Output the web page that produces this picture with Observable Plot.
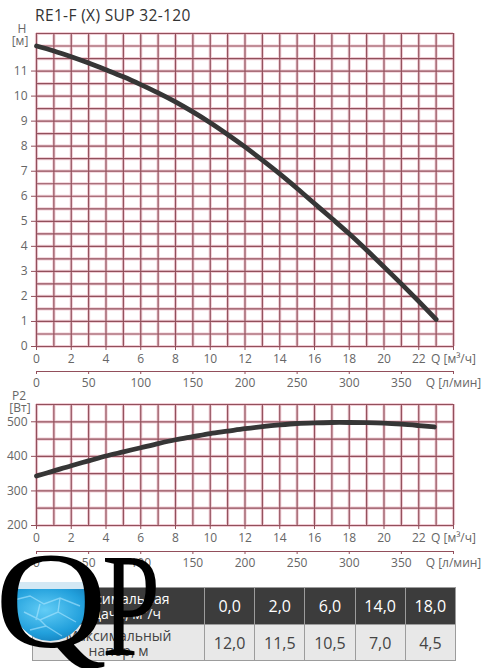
<!DOCTYPE html>
<html><head><meta charset="utf-8">
<script src="https://cdn.jsdelivr.net/npm/d3@7"></script>
<script src="https://cdn.jsdelivr.net/npm/@observablehq/plot@0.6"></script>
<style>
body{margin:0;background:#fff;font-family:"Open Sans",sans-serif;}
#wrap{position:relative;width:483px;height:668px;overflow:hidden;background:#fff;}
table.spec{position:absolute;left:32px;top:587px;width:423px;border-collapse:collapse;table-layout:fixed;font-family:"Open Sans",sans-serif;}
table.spec td{border:1px solid #9c9c9c;text-align:center;padding:0;}
table.spec tr.r1 td{background:#3c3c3c;color:#fff;height:36px;}
table.spec tr.r2 td{background:#e8e8e8;color:#444;height:35px;}
table.spec td.lab{font-size:14px;line-height:15px;}
table.spec td.num{font-size:16px;}
</style></head><body><div id="wrap"></div>
<script>
// ---------- data ----------
const title = "RE1-F (X) SUP 32-120";
const flowQ = [0,1,2,3,4,5,6,7,8,9,10,11,12,13,14,15,16,17,18,19,20,21,22,23];
const headH = [12.0,11.8,11.57,11.32,11.05,10.77,10.46,10.13,9.77,9.37,8.94,8.47,7.97,7.44,6.89,6.31,5.71,5.11,4.5,3.85,3.18,2.5,1.8,1.08];
const powerQ = [0,1,2,3,4,5,6,7,8,9,10,11,12,13,14,15,16,17,18,19,20,21,22,22.9];
const powerW = [343,358,373,387,401,413,425,437,448,457,466,473,480,486,491,495,497,498,498,497.5,496,493,489,485];
const qTicks = [0,2,4,6,8,10,12,14,16,18,20,22,24];
const qTickLabels = ["0","2","4","6","8","10","12","14","16","18","20","22","Q [м³/ч]"];
const lminTicks = [0,50,100,150,200,250,300,350,400];
const lminTickLabels = ["0","50","100","150","200","250","300","350","Q [л/мин]"];
const hTicks = [0,1,2,3,4,5,6,7,8,9,10,11];
const pTicks = [200,300,400,500];
const tableRowLabels = [["Максимальная","подача, м³/ч"],["Максимальный","напор, м"]];
const tableFlow = ["0,0","2,0","6,0","14,0","18,0"];
const tableHead = ["12,0","11,5","10,5","7,0","4,5"];

// ---------- style ----------
const GRID = "#924f5b", GLOW = "#f1cfd7", CURVE = "#363636", TXT = "#666";
const gridQ = d3.range(0, 25, 1);
const gridH = d3.range(0, 12.51, 0.5);
const gridP = d3.range(200, 551, 50);
const baseStyle = {fontFamily: "Open Sans", fontSize: "12px", color: TXT, background: "transparent", overflow: "visible"};
const lab = (ticks, labels) => d => labels[ticks.indexOf(d)];

function gridMarks(xs, ys) {
  return [
    Plot.ruleX(xs, {stroke: GLOW, strokeWidth: 3.2}),
    Plot.ruleY(ys, {stroke: GLOW, strokeWidth: 3.2}),
    Plot.ruleX(xs, {stroke: GRID, strokeWidth: 1.2}),
    Plot.ruleY(ys, {stroke: GRID, strokeWidth: 1.2})
  ];
}

const wrap = document.getElementById("wrap");
function place(node, top, z) {
  node.style.position = "absolute"; node.style.left = "0px"; node.style.top = top + "px";
  node.style.zIndex = z || 1;
  wrap.appendChild(node);
}

// Head chart
const headChart = Plot.plot({
  width: 483, height: 368, marginLeft: 36, marginRight: 30, marginTop: 33, marginBottom: 22,
  x: {domain: [0, 24]}, y: {domain: [0, 12.5]}, style: baseStyle,
  marks: [
    ...gridMarks(gridQ, gridH),
    Plot.axisX({ticks: qTicks, tickFormat: lab(qTicks, qTickLabels), tickSize: 4, tickPadding: 4, label: null, stroke: GRID, fill: TXT}),
    Plot.axisY({ticks: hTicks, tickSize: 5, tickPadding: 4, label: null, stroke: GRID, fill: TXT}),
    Plot.line(flowQ.map((q, i) => ({q, h: headH[i]})), {x: "q", y: "h", curve: "catmull-rom", stroke: CURVE, strokeWidth: 4.8, strokeLinecap: "round"})
  ]
});
place(headChart, 0);

function lminAxis(top) {
  const p = Plot.plot({
    width: 483, height: 22, marginLeft: 36, marginRight: 30, marginTop: 0, marginBottom: 21,
    x: {domain: [0, 400]}, y: {domain: [0, 1], axis: null}, style: baseStyle,
    marks: [
      Plot.ruleY([0], {stroke: GRID, strokeWidth: 1.2}),
      Plot.axisX({ticks: lminTicks, tickFormat: lab(lminTicks, lminTickLabels), tickSize: 3, tickPadding: 4, label: null, stroke: GRID, fill: TXT})
    ]
  });
  place(p, top);
}
lminAxis(370);

// Power chart
const powerChart = Plot.plot({
  width: 483, height: 165, marginLeft: 36, marginRight: 30, marginTop: 24, marginBottom: 20,
  x: {domain: [0, 24]}, y: {domain: [200, 550]}, style: baseStyle,
  marks: [
    ...gridMarks(gridQ, gridP),
    Plot.axisX({ticks: qTicks, tickFormat: lab(qTicks, qTickLabels), tickSize: 4, tickPadding: 4, label: null, stroke: GRID, fill: TXT}),
    Plot.axisY({ticks: pTicks, tickSize: 5, tickPadding: 4, label: null, stroke: GRID, fill: TXT}),
    Plot.line(powerQ.map((q, i) => ({q, p: powerW[i]})), {x: "q", y: "p", curve: "catmull-rom", stroke: CURVE, strokeWidth: 4.8, strokeLinecap: "round"})
  ]
});
place(powerChart, 380);
lminAxis(550);

// Table
const table = document.createElement("table");
table.className = "spec";
const cg = document.createElement("colgroup");
cg.innerHTML = '<col style="width:172px">' + tableFlow.map(() => '<col style="width:50.2px">').join("");
table.appendChild(cg);
[[tableRowLabels[0], tableFlow, "r1"], [tableRowLabels[1], tableHead, "r2"]].forEach(([labels, vals, cls]) => {
  const tr = document.createElement("tr"); tr.className = cls;
  const td0 = document.createElement("td"); td0.className = "lab"; td0.innerHTML = labels.join("<br>");
  tr.appendChild(td0);
  vals.forEach(v => { const td = document.createElement("td"); td.className = "num"; td.textContent = v; tr.appendChild(td); });
  table.appendChild(tr);
});
table.style.zIndex = 2;
wrap.appendChild(table);

// Overlay: title, axis unit labels, logo
const ns = "http://www.w3.org/2000/svg";
const ov = document.createElementNS(ns, "svg");
ov.setAttribute("width", 483); ov.setAttribute("height", 668);
ov.style.position = "absolute"; ov.style.left = "0px"; ov.style.top = "0px"; ov.style.zIndex = 3; ov.style.pointerEvents = "none";
ov.innerHTML = `
<defs>
  <radialGradient id="water" cx="45%" cy="35%" r="70%">
    <stop offset="0" stop-color="#63cdf6"/>
    <stop offset="0.55" stop-color="#22a0dc"/>
    <stop offset="1" stop-color="#0a6aa8"/>
  </radialGradient>
  <clipPath id="disc"><ellipse cx="50" cy="600" rx="38" ry="41"/></clipPath>
</defs>
<text x="35" y="20.5" font-family="Open Sans" font-size="15.5" letter-spacing="0.35" fill="#333"></text>
<g font-family="Open Sans" font-size="12" fill="${TXT}" text-anchor="middle">
  <text x="22" y="33" class="u"></text>
  <text x="20" y="45" class="u"></text>
  <text x="19" y="400" class="u"></text>
  <text x="20" y="412" class="u"></text>
</g>
<g clip-path="url(#disc)">
  <rect x="0" y="582" width="100" height="8" fill="#d3e8f4"/>
  <rect x="0" y="589" width="100" height="60" fill="url(#water)"/>
  <path d="M14 600 L30 596 L44 604 L60 598 L80 606 M24 612 L40 620 L58 612 L76 622 M30 630 L46 626 L62 636 M40 604 L36 620 M60 598 L58 612 M46 626 L40 620" stroke="#aee6ff" stroke-width="1.4" fill="none" opacity="0.6"/>
</g>
<text x="-5" y="647" font-family="Liberation Serif" font-size="138" fill="#000" textLength="112" lengthAdjust="spacingAndGlyphs">Q</text>
<text x="102" y="655" font-family="Liberation Serif" font-size="148" fill="#000" textLength="58" lengthAdjust="spacingAndGlyphs">P</text>
`;
ov.querySelector("text").textContent = title;
const units = ["H", "[м]", "P2", "[Вт]"];
ov.querySelectorAll("text.u").forEach((t, i) => t.textContent = units[i]);
wrap.appendChild(ov);
</script></body></html>
